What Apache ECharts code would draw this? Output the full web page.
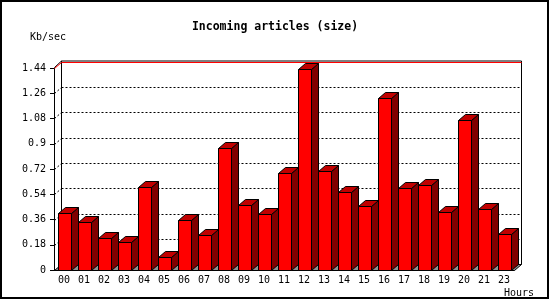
<!DOCTYPE html>
<html><head><meta charset="utf-8">
<script src="https://cdn.jsdelivr.net/npm/echarts@6/dist/echarts.min.js"></script>
<style>html,body{margin:0;padding:0;background:#fff}#c{width:550px;height:300px}</style>
</head><body><div id="c"></div>
<script>
const hours = ['00','01','02','03','04','05','06','07','08','09','10','11','12','13','14','15','16','17','18','19','20','21','23'];
const kbPerSec = [0.404,0.340,0.226,0.197,0.590,0.091,0.354,0.247,0.868,0.461,0.397,0.689,1.431,0.704,0.554,0.454,1.224,0.582,0.604,0.411,1.067,0.433,0.254];
const yTicks = [0,0.18,0.36,0.54,0.72,0.9,1.08,1.26,1.44];
const titleText = 'Incoming articles (size)';
const yName = 'Kb/sec';
const xName = 'Hours';

const DX = 7, DY = -6;
const MONO = '"DejaVu Sans Mono","Liberation Mono",monospace';
const px = v => Math.round(v) + 0.5;

const chart = echarts.init(document.getElementById('c'), null, {renderer: 'canvas'});

function frameItem(params, api) {
  const cs = params.coordSys;
  const x = cs.x, y = cs.y, w = cs.width, h = cs.height;
  const bx = px(x + DX), bxr = px(x + w + DX), byTop = px(y + DY) - 1.5, byBot = px(y + h + DY);
  const fy = px(y + h);
  return {type: 'group', children: [
    {type: 'polygon', shape: {points: [[px(x), fy], [px(x + w), fy], [bxr, byBot], [bx, byBot]]},
      style: {fill: '#909090', stroke: '#000', lineWidth: 1}},
    {type: 'line', shape: {x1: bx, y1: byTop, x2: bx, y2: byBot}, style: {stroke: '#000', lineWidth: 1}},
    {type: 'line', shape: {x1: bxr, y1: byTop, x2: bxr, y2: byBot}, style: {stroke: '#000', lineWidth: 1}},
    {type: 'line', shape: {x1: bx, y1: byTop, x2: bxr, y2: byTop}, style: {stroke: '#000', lineWidth: 1}},
    {type: 'line', shape: {x1: px(x), y1: px(y) - 1, x2: bx, y2: byTop}, style: {stroke: '#000', lineWidth: 1}}
  ]};
}

function gridItem(params, api) {
  const cs = params.coordSys;
  const v = api.value(0);
  const yy = px(api.coord([0, v])[1]);
  const isTop = v === yTicks[yTicks.length - 1];
  const style = isTop ? {stroke: '#ff0000', lineWidth: 1} : {stroke: '#000', lineWidth: 1, lineDash: [2, 2]};
  return {type: 'group', children: [
    {type: 'line', shape: {x1: px(cs.x), y1: yy, x2: px(cs.x + DX), y2: yy + DY}, style: style},
    {type: 'line', shape: {x1: px(cs.x + DX), y1: yy + DY, x2: px(cs.x + cs.width + DX), y2: yy + DY}, style: style}
  ]};
}

function barItem(params, api) {
  const i = api.value(0), v = api.value(1);
  const top = api.coord([i, v]);
  const base = api.coord([i, 0]);
  const bw = api.size([1, 0])[0] * 0.65;
  const x0 = px(top[0] - bw / 2), x1 = px(top[0] + bw / 2);
  const yT = px(top[1]), yB = px(base[1]);
  return {type: 'group', children: [
    {type: 'polygon', shape: {points: [[x1, yT], [x1 + DX, yT + DY], [x1 + DX, yB + DY], [x1, yB]]},
      style: {fill: '#800000', stroke: '#000', lineWidth: 1}},
    {type: 'polygon', shape: {points: [[x0, yT], [x0 + DX, yT + DY], [x1 + DX, yT + DY], [x1, yT]]},
      style: {fill: '#c00000', stroke: '#000', lineWidth: 1}},
    {type: 'rect', shape: {x: x0, y: yT, width: x1 - x0, height: yB - yT},
      style: {fill: '#ff0000', stroke: '#000', lineWidth: 1}}
  ]};
}

chart.setOption({
  animation: false,
  backgroundColor: '#fff',
  title: {text: titleText, left: 'center', top: 21, padding: 0,
    textStyle: {fontFamily: MONO, fontWeight: 'bold', fontSize: 11.5, color: '#000'}},
  grid: {left: 54, right: 36, top: 68, bottom: 30},
  xAxis: {type: 'category', data: hours,
    axisLine: {lineStyle: {color: '#000', width: 1}},
    axisTick: {length: 4, lineStyle: {color: '#000'}},
    axisLabel: {fontFamily: MONO, fontSize: 10, color: '#000', margin: 5, interval: 0},
    splitLine: {show: false}},
  yAxis: {type: 'value', min: yTicks[0], max: yTicks[yTicks.length - 1], interval: yTicks[1] - yTicks[0],
    axisLine: {show: true, lineStyle: {color: '#000', width: 1}},
    axisTick: {show: true, length: 4, lineStyle: {color: '#000'}},
    axisLabel: {fontFamily: MONO, fontSize: 10, color: '#000', margin: 8,
      formatter: v => { let best = yTicks[0]; yTicks.forEach(t => { if (Math.abs(t - v) < Math.abs(best - v)) best = t; }); return String(best); }},
    splitLine: {show: false}},
  graphic: [
    {type: 'rect', shape: {x: 1, y: 1, width: 547, height: 297}, style: {fill: null, stroke: '#000', lineWidth: 2}, z: 100},
    {type: 'text', left: 30, top: 32, style: {text: yName, fontFamily: MONO, fontSize: 10, fill: '#000'}},
    {type: 'text', left: 504, top: 288, style: {text: xName, fontFamily: MONO, fontSize: 10, fill: '#000'}}
  ],
  series: [
    {type: 'custom', data: [[0]], renderItem: frameItem, clip: false, silent: true, z: 1},
    {type: 'custom', data: yTicks.slice(1).map(t => [t]), renderItem: gridItem, clip: false, silent: true, z: 2, encode: {y: 0}},
    {type: 'custom', data: kbPerSec.map((v, i) => [i, v]), renderItem: barItem, clip: false, z: 3, encode: {x: 0, y: 1}}
  ]
});
</script></body></html>
